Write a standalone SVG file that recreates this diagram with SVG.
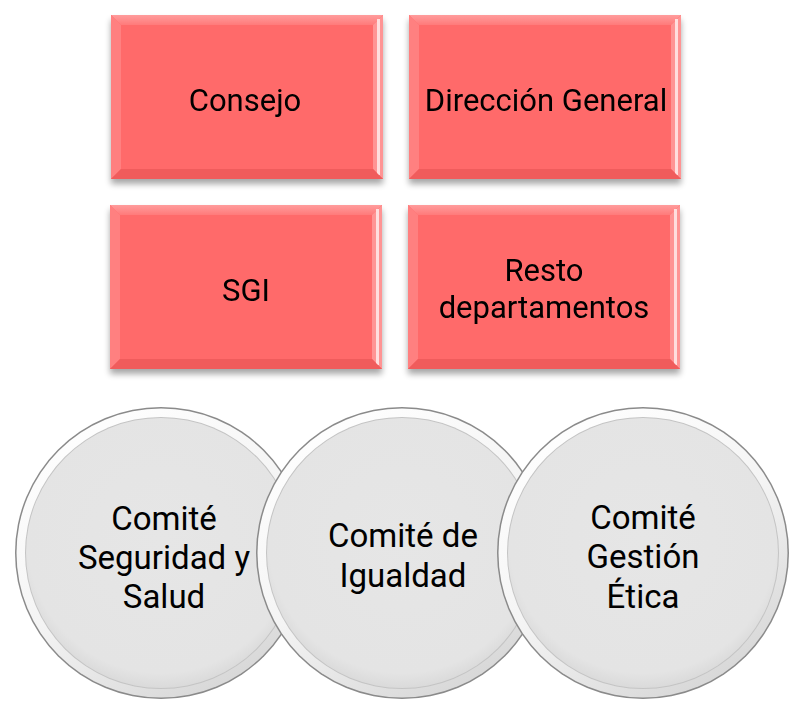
<svg xmlns="http://www.w3.org/2000/svg" width="789" height="707" viewBox="0 0 789 707">
<defs>
<filter id="sh" x="-10%" y="-10%" width="120%" height="130%">
<feGaussianBlur in="SourceAlpha" stdDeviation="3"/>
<feOffset dx="0" dy="5" result="b"/>
<feComponentTransfer><feFuncA type="linear" slope="0.35"/></feComponentTransfer>
<feMerge><feMergeNode/><feMergeNode in="SourceGraphic"/></feMerge>
</filter>
<linearGradient id="topb" x1="0" y1="0" x2="0" y2="1"><stop offset="0" stop-color="#ff9c9c"/><stop offset="1" stop-color="#ff7a7a"/></linearGradient>
<radialGradient id="cg" cx="0.5" cy="0.45" r="0.55"><stop offset="0" stop-color="#e6e6e6"/><stop offset="0.9" stop-color="#e4e4e4"/><stop offset="1" stop-color="#dadada"/></radialGradient>
<linearGradient id="ring" x1="0.2" y1="0" x2="0.8" y2="1"><stop offset="0" stop-color="#ffffff"/><stop offset="0.5" stop-color="#f4f4f4"/><stop offset="1" stop-color="#d4d4d4"/></linearGradient>
<g id="rectShape">
<rect x="0" y="0" width="272" height="164" fill="#ff6b6b"/>
<polygon points="0,0 272,0 262,10 10,10" fill="url(#topb)"/>
<polygon points="0,0 10,10 10,154 0,164" fill="#ff8080"/>
<polygon points="272,0 272,164 262,154 262,10" fill="#ff9494"/>
<rect x="266" y="4" width="3" height="156" fill="#ffdede"/>
<polygon points="0,164 10,154 262,154 272,164" fill="#f05c5c"/>
</g>
<g id="circShape">
<circle r="146" fill="#8a8a8a"/>
<circle r="144.5" fill="url(#ring)"/>
<circle r="136" fill="#c4c4c4"/>
<circle r="135" fill="url(#cg)"/>
</g>
</defs>
<style>
text{font-family:Roboto,"Open Sans","DejaVu Sans",sans-serif;fill:#000;text-anchor:middle}
.r{font-size:31px}
.c{font-size:33px}
</style>
<g id="consejo" filter="url(#sh)">
<use href="#rectShape" x="111" y="15"/>
<text class="r" x="245" y="111">Consejo</text>
</g>
<g id="direccion" filter="url(#sh)">
<use href="#rectShape" x="409" y="15"/>
<text class="r" x="546" y="111">Dirección General</text>
</g>
<g id="sgi" filter="url(#sh)">
<use href="#rectShape" x="110" y="205"/>
<text class="r" x="246" y="301">SGI</text>
</g>
<g id="resto" filter="url(#sh)">
<use href="#rectShape" x="408" y="205"/>
<text class="r" x="544" y="281">Resto</text>
<text class="r" x="544" y="318">departamentos</text>
</g>
<g id="comite-seguridad">
<use href="#circShape" x="161" y="553"/>
<text class="c" x="164" y="530">Comité</text>
<text class="c" x="164" y="569">Seguridad y</text>
<text class="c" x="164" y="608">Salud</text>
</g>
<g id="comite-igualdad">
<use href="#circShape" x="402" y="553"/>
<text class="c" x="403" y="547">Comité de</text>
<text class="c" x="403" y="587">Igualdad</text>
</g>
<g id="comite-etica">
<use href="#circShape" x="643" y="553"/>
<text class="c" x="643" y="529">Comité</text>
<text class="c" x="643" y="568">Gestión</text>
<text class="c" x="643" y="608">Ética</text>
</g>
<g id="connectors"></g>
</svg>
